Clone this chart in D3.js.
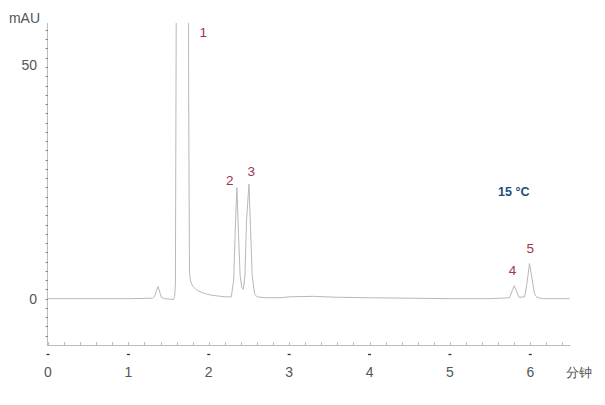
<!DOCTYPE html>
<html><head><meta charset="utf-8">
<script src="https://cdn.jsdelivr.net/npm/d3@7"></script>
<style>
html,body{margin:0;padding:0;background:#fff;}
svg{display:block;font-family:"Liberation Sans",Arial,sans-serif;}
</style></head>
<body>
<svg id="c" width="605" height="405"></svg>
<script>
// Chromatogram trace (time in min, absorbance in mAU)
const times = [0.00, 0.50, 1.00, 1.30, 1.33, 1.35, 1.37, 1.39, 1.41, 1.45, 1.52, 1.56, 1.575, 1.585, 1.595, 1.60, 1.74, 1.750, 1.760, 1.770, 1.78, 1.80, 1.84, 1.89, 1.95, 2.02, 2.10, 2.20, 2.28, 2.31, 2.33, 2.35, 2.37, 2.39, 2.41, 2.43, 2.45, 2.47, 2.50, 2.52, 2.54, 2.57, 2.60, 2.70, 2.90, 3.00, 3.30, 3.60, 4.00, 4.50, 5.00, 5.50, 5.74, 5.77, 5.80, 5.83, 5.86, 5.93, 5.96, 5.99, 6.02, 6.05, 6.08, 6.15, 6.30, 6.49];
const values = [0.0, 0.0, 0.0, 0.1, 0.6, 1.8, 2.6, 1.4, 0.3, 0.0, -0.1, -0.2, 0.5, 3.0, 60, 200, 200, 43, 6.0, 4.2, 3.5, 2.7, 2.0, 1.5, 1.1, 0.8, 0.6, 0.4, 0.4, 4, 15, 24, 14, 5, 2.5, 2.0, 5, 17, 24.7, 15, 5, 1.0, 0.4, 0.2, 0.2, 0.4, 0.5, 0.3, 0.2, 0.1, 0.0, 0.0, 0.2, 1.5, 2.8, 1.5, 0.3, 0.4, 3.5, 7.6, 4.5, 1.2, 0.3, 0.0, 0.0, 0.0];
const peakLabels = ["1", "2", "3", "4", "5"];
const peakTimes  = [1.93, 2.26, 2.53, 5.78, 6.00];
const peakLabelValues = [56.5, 24.5, 26.5, 5.2, 9.8];
const xTicks = [0, 1, 2, 3, 4, 5, 6];
const yTicks = [0, 50];
const xLabel = "分钟";
const yLabel = "mAU";
const tempLabel = "15 °C";

const svg = d3.select("#c");
const x = d3.scaleLinear().domain([0, 6.5]).range([48, 570.5]);
const y = d3.scaleLinear().domain([-10, 59.5]).range([345, 23]);

const axisCol = "#bdbdbd", textCol = "#555";

// Y axis line + minor ticks
svg.append("line").attr("x1", 47.5).attr("x2", 47.5).attr("y1", 23).attr("y2", 345)
  .attr("stroke", axisCol).attr("stroke-width", 1);
const yMinor = d3.range(-8, 59, 2);
svg.append("g").selectAll("line").data(yMinor).join("line")
  .attr("x1", 45.5).attr("x2", 48).attr("y1", d => Math.round(y(d)) + 0.5).attr("y2", d => Math.round(y(d)) + 0.5)
  .attr("stroke", "#888").attr("stroke-width", 1);
svg.append("g").selectAll("text").data(yTicks).join("text")
  .attr("x", 37).attr("y", d => y(d) - (d === 50 ? 2 : 0)).attr("dy", "0.35em").attr("text-anchor", "end")
  .attr("font-size", 14).attr("fill", textCol).text(d => d);
svg.append("text").attr("x", 40).attr("y", 23).attr("text-anchor", "end")
  .attr("font-size", 14).attr("fill", textCol).text(yLabel);

// X axis line + minor ticks + major dashes
svg.append("line").attr("x1", 47).attr("x2", 570.5).attr("y1", 345.5).attr("y2", 345.5)
  .attr("stroke", axisCol).attr("stroke-width", 1);
const xMinor = d3.range(0, 6.5, 0.2);
svg.append("g").selectAll("line").data(xMinor).join("line")
  .attr("x1", d => Math.round(x(d)) + 0.5).attr("x2", d => Math.round(x(d)) + 0.5)
  .attr("y1", 342).attr("y2", 346)
  .attr("stroke", axisCol).attr("stroke-width", 1);
svg.append("g").selectAll("line").data(xTicks).join("line")
  .attr("x1", d => x(d) - 1.5).attr("x2", d => x(d) + 1.5)
  .attr("y1", 354.5).attr("y2", 354.5)
  .attr("stroke", "#333").attr("stroke-width", 1.3);
svg.append("g").selectAll("text").data(xTicks).join("text")
  .attr("x", d => x(d)).attr("y", 372).attr("dy", "0.35em").attr("text-anchor", "middle")
  .attr("font-size", 14).attr("fill", textCol).text(d => d);
svg.append("text").attr("x", 566).attr("y", 372).attr("dy", "0.35em")
  .attr("font-size", 13).attr("fill", textCol).text(xLabel);

// clip
svg.append("clipPath").attr("id", "clip").append("rect")
  .attr("x", 40).attr("y", 23).attr("width", 540).attr("height", 330);

const pts = times.map((t, i) => [t, values[i]]);
const line = d3.line().x(d => x(d[0])).y(d => y(d[1]));
svg.append("path").datum(pts).attr("d", line).attr("clip-path", "url(#clip)")
  .attr("fill", "none").attr("stroke", "#b8b8b8").attr("stroke-width", 1).attr("stroke-linejoin", "round");

// peak labels
svg.append("g").selectAll("text").data(peakLabels).join("text")
  .attr("x", (d, i) => x(peakTimes[i])).attr("y", (d, i) => y(peakLabelValues[i]))
  .attr("text-anchor", "middle").attr("font-size", 13.5).attr("fill", "#9c3550").text(d => d);

// temperature label
svg.append("text").attr("x", 498).attr("y", 196).attr("font-size", 12.5).attr("font-weight", "bold")
  .attr("fill", "#1d4f7c").text(tempLabel);
</script>
</body></html>
